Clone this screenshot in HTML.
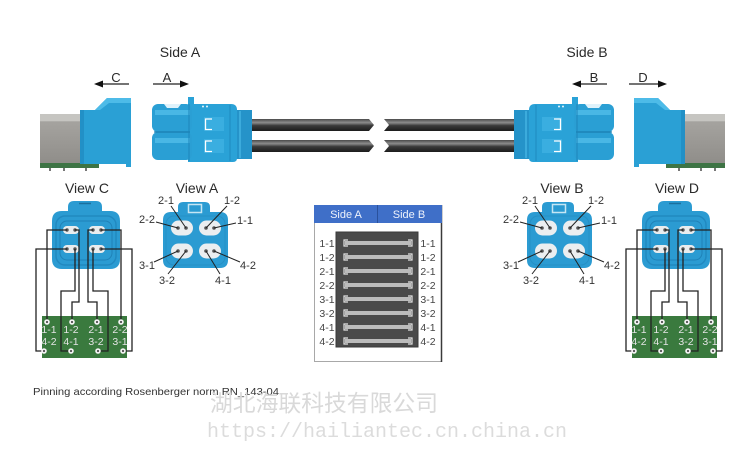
<!DOCTYPE html>
<html><head><meta charset="utf-8">
<style>
html,body{margin:0;padding:0;background:#fff;}
svg{display:block;}
text{font-family:"Liberation Sans",Arial,sans-serif;}
</style></head><body>
<svg width="750" height="457" viewBox="0 0 750 457" xmlns="http://www.w3.org/2000/svg">
<defs>
<linearGradient id="cab" x1="0" y1="0" x2="0" y2="1">
<stop offset="0" stop-color="#4a4a4a"/>
<stop offset="0.3" stop-color="#8c8c8c"/>
<stop offset="0.55" stop-color="#3a3a3a"/>
<stop offset="1" stop-color="#1c1c1c"/>
</linearGradient>
<linearGradient id="grey" x1="0" y1="0" x2="0" y2="1">
<stop offset="0" stop-color="#c6c5c1"/>
<stop offset="0.13" stop-color="#c6c5c1"/>
<stop offset="0.15" stop-color="#a5a39f"/>
<stop offset="1" stop-color="#8e8c88"/>
</linearGradient>

<g id="plug">
 <rect x="236" y="110" width="16" height="49" fill="#2593c9"/>
 <line x1="240" y1="111" x2="240" y2="158" stroke="#45b3e3" stroke-width="1.5"/>
 <path d="M188,104 H231 Q237,104 237,110 V158 Q237,162 233,162 H188 Z" fill="#2aa2d7"/>
 <rect x="188" y="97" width="6" height="8" fill="#2aa2d7"/>
 <rect x="152" y="104" width="40" height="28" rx="6" fill="#2a9fd4"/>
 <rect x="152" y="132" width="40" height="28" rx="6" fill="#2a9fd4"/>
 <rect x="155" y="110" width="35" height="5" fill="#49b7e5"/>
 <rect x="155" y="138" width="35" height="5" fill="#49b7e5"/>
 <line x1="154" y1="132" x2="190" y2="132" stroke="#1a7db0" stroke-width="1.2"/>
 <line x1="189" y1="104" x2="189" y2="161" stroke="#1d86ba" stroke-width="1"/>
 <polygon points="164,104 167,108 178,108 181,104" fill="#dff2fb"/>
 <circle cx="203" cy="106.5" r="1" fill="#e8f6fc"/>
 <circle cx="207" cy="106.5" r="1" fill="#e8f6fc"/>
 <rect x="204" y="117" width="20" height="14" fill="#3aaee0"/>
 <rect x="204" y="139" width="20" height="14" fill="#3aaee0"/>
 <path d="M212,119 H205.5 V129.5 H212 M212,141 H205.5 V151.5 H212" fill="none" stroke="#fff" stroke-width="1.3"/>
 <line x1="230" y1="105" x2="230" y2="161" stroke="#1f8bbf"/>
</g>

<g id="recep">
 <rect x="40" y="114" width="44" height="52" fill="url(#grey)"/>
 <rect x="40" y="163" width="59" height="5" fill="#3e7445"/>
 <rect x="49" y="168" width="2" height="3" fill="#777"/>
 <rect x="63" y="168" width="2" height="3" fill="#777"/>
 <rect x="85" y="168" width="2" height="3" fill="#777"/>
 <path d="M80,110 H95 L107,98 H131 V167 H126 V164 H80 Z" fill="#2aa0d5"/>
 <rect x="80" y="110" width="4" height="54" fill="#2290c6"/>
 <polygon points="95,110 107,98 131,98 131,103 109,103 100,110" fill="#4dbbe8"/>
</g>

<g id="vc">
 <rect x="42" y="316" width="85" height="42" fill="#3a7a3e"/>
 <path d="M52,221 Q52,211 62,211 H68 V207 Q68,201 74,201 H96 Q102,201 102,207 V211 H110 Q120,211 120,221 V259 Q120,269 110,269 H62 Q52,269 52,259 Z" fill="#2b9bd2"/>
 <rect x="56" y="216" width="60" height="49" rx="9" fill="none" stroke="#2189c0" stroke-width="1.5"/>
 <rect x="60" y="221" width="52" height="39" rx="7" fill="none" stroke="#1f82b8" stroke-width="1"/>
 <line x1="79" y1="203.5" x2="91" y2="203.5" stroke="#1a6f9e" stroke-width="1.5"/>
 <rect x="63" y="226" width="16" height="8" rx="4" fill="#e9ecee"/>
 <rect x="89" y="226" width="16" height="8" rx="4" fill="#e9ecee"/>
 <rect x="63" y="245" width="16" height="8" rx="4" fill="#e9ecee"/>
 <rect x="89" y="245" width="16" height="8" rx="4" fill="#e9ecee"/>
 <g fill="#555">
  <circle cx="67" cy="230" r="1.7"/><circle cx="75" cy="230" r="1.7"/>
  <circle cx="93" cy="230" r="1.7"/><circle cx="101" cy="230" r="1.7"/>
  <circle cx="67" cy="249" r="1.7"/><circle cx="75" cy="249" r="1.7"/>
  <circle cx="93" cy="249" r="1.7"/><circle cx="101" cy="249" r="1.7"/>
 </g>
 <g fill="none" stroke="#222" stroke-width="1.3">
  <path d="M67,230 H47 V322"/>
  <path d="M75,230 H79 V302 H72 V322"/>
  <path d="M93,230 H88 V302 H97 V322"/>
  <path d="M101,230 H121 V322"/>
  <path d="M67,249 H36 V351 H44"/>
  <path d="M75,249 V291 H61 V351 H71"/>
  <path d="M93,249 V291 H108 V351 H98"/>
  <path d="M101,249 H132 V351 H123"/>
 </g>
 <g fill="#f2f2f2">
  <circle cx="47" cy="322" r="2.8"/><circle cx="72" cy="322" r="2.8"/>
  <circle cx="97" cy="322" r="2.8"/><circle cx="121" cy="322" r="2.8"/>
  <circle cx="44" cy="351" r="2.8"/><circle cx="71" cy="351" r="2.8"/>
  <circle cx="98" cy="351" r="2.8"/><circle cx="123" cy="351" r="2.8"/>
 </g>
 <g fill="#333">
  <circle cx="47" cy="322" r="1"/><circle cx="72" cy="322" r="1"/>
  <circle cx="97" cy="322" r="1"/><circle cx="121" cy="322" r="1"/>
  <circle cx="44" cy="351" r="1"/><circle cx="71" cy="351" r="1"/>
  <circle cx="98" cy="351" r="1"/><circle cx="123" cy="351" r="1"/>
 </g>
</g>

<g id="va">
 <path d="M163,220 Q163,212 171,212 H178 V207 Q178,202 183,202 H205 Q210,202 210,207 V212 H220 Q228,212 228,220 V260 Q228,268 220,268 H171 Q163,268 163,260 Z" fill="#2b9bd2"/>
 <rect x="166" y="216" width="59" height="49" rx="8" fill="none" stroke="#2590c6" stroke-width="1"/>
 <rect x="188.5" y="204.5" width="13" height="8" fill="none" stroke="#c6e6f4" stroke-width="1.5"/>
 <rect x="171" y="220.5" width="22" height="15" rx="7.5" fill="#ebeef0"/>
 <rect x="199" y="220.5" width="22" height="15" rx="7.5" fill="#ebeef0"/>
 <rect x="171" y="243.5" width="22" height="15" rx="7.5" fill="#ebeef0"/>
 <rect x="199" y="243.5" width="22" height="15" rx="7.5" fill="#ebeef0"/>
 <g fill="#555">
  <circle cx="178" cy="228" r="1.8"/><circle cx="186" cy="228" r="1.8"/>
  <circle cx="206" cy="228" r="1.8"/><circle cx="214" cy="228" r="1.8"/>
  <circle cx="178" cy="251" r="1.8"/><circle cx="186" cy="251" r="1.8"/>
  <circle cx="206" cy="251" r="1.8"/><circle cx="214" cy="251" r="1.8"/>
 </g>
 <g stroke="#222" stroke-width="1">
  <line x1="156" y1="222" x2="178" y2="228"/>
  <line x1="171" y1="206" x2="186" y2="228"/>
  <line x1="227" y1="206" x2="206" y2="228"/>
  <line x1="236" y1="223" x2="214" y2="228"/>
  <line x1="154" y1="262" x2="178" y2="251"/>
  <line x1="168" y1="274" x2="186" y2="251"/>
  <line x1="220" y1="274" x2="206" y2="251"/>
  <line x1="240" y1="262" x2="214" y2="251"/>
 </g>
</g>
</defs>

<!-- Side labels -->
<text x="180" y="57" font-size="14" fill="#2a2a2a" text-anchor="middle">Side A</text>
<text x="587" y="57" font-size="14" fill="#2a2a2a" text-anchor="middle">Side B</text>

<!-- arrows -->
<g stroke="#222" stroke-width="1.2">
 <line x1="101" y1="84" x2="129" y2="84"/>
 <line x1="153" y1="84" x2="182" y2="84"/>
 <line x1="579" y1="84" x2="607" y2="84"/>
 <line x1="629" y1="84" x2="660" y2="84"/>
</g>
<g fill="#111">
 <polygon points="94,84 103,80.5 103,87.5"/>
 <polygon points="189,84 180,80.5 180,87.5"/>
 <polygon points="572,84 581,80.5 581,87.5"/>
 <polygon points="667,84 658,80.5 658,87.5"/>
</g>
<g font-size="13" fill="#2a2a2a" text-anchor="middle">
 <text x="116" y="82">C</text>
 <text x="167" y="82">A</text>
 <text x="594" y="82">B</text>
 <text x="643" y="82">D</text>
</g>

<!-- cables -->
<polygon points="250,119 369,119 374,125 369,131 250,131" fill="url(#cab)"/>
<polygon points="250,140 369,140 374,146 369,152 250,152" fill="url(#cab)"/>
<polygon points="384,119 516,119 516,131 384,131 389,125" fill="url(#cab)"/>
<polygon points="384,140 516,140 516,152 384,152 389,146" fill="url(#cab)"/>

<!-- connectors -->
<use href="#recep"/>
<use href="#recep" transform="matrix(-1 0 0 1 765 0)"/>
<use href="#plug"/>
<use href="#plug" transform="matrix(-1 0 0 1 766 0)"/>

<!-- View titles -->
<g font-size="14" fill="#2a2a2a" text-anchor="middle">
 <text x="87" y="193">View C</text>
 <text x="197" y="193">View A</text>
 <text x="562" y="193">View B</text>
 <text x="677" y="193">View D</text>
</g>

<!-- View C / D -->
<use href="#vc"/>
<use href="#vc" transform="translate(590 0)"/>
<g font-size="10.5" fill="#e4e4e4" text-anchor="middle">
 <text x="49" y="333">1-1</text><text x="71" y="333">1-2</text><text x="96" y="333">2-1</text><text x="120" y="333">2-2</text>
 <text x="49" y="345">4-2</text><text x="71" y="345">4-1</text><text x="96" y="345">3-2</text><text x="120" y="345">3-1</text>
 <text x="639" y="333">1-1</text><text x="661" y="333">1-2</text><text x="686" y="333">2-1</text><text x="710" y="333">2-2</text>
 <text x="639" y="345">4-2</text><text x="661" y="345">4-1</text><text x="686" y="345">3-2</text><text x="710" y="345">3-1</text>
</g>

<!-- View A / B -->
<use href="#va"/>
<use href="#va" transform="translate(364 0)"/>
<g font-size="11" fill="#333" text-anchor="middle">
 <text x="166" y="204">2-1</text><text x="232" y="204">1-2</text>
 <text x="147" y="223">2-2</text><text x="245" y="224">1-1</text>
 <text x="147" y="269">3-1</text><text x="248" y="269">4-2</text>
 <text x="167" y="284">3-2</text><text x="223" y="284">4-1</text>
 <text x="530" y="204">2-1</text><text x="596" y="204">1-2</text>
 <text x="511" y="223">2-2</text><text x="609" y="224">1-1</text>
 <text x="511" y="269">3-1</text><text x="612" y="269">4-2</text>
 <text x="531" y="284">3-2</text><text x="587" y="284">4-1</text>
</g>

<!-- Table -->
<rect x="314.5" y="205.5" width="127" height="156" fill="#fff" stroke="#a8a8a8" stroke-width="1"/>
<line x1="441.5" y1="205" x2="441.5" y2="362" stroke="#3a3a3a" stroke-width="1.5"/>
<rect x="314" y="205" width="128" height="18" fill="#3f6fc8"/>
<line x1="377.5" y1="205" x2="377.5" y2="223" stroke="#2a519c" stroke-width="1"/>
<text x="346" y="218" font-size="11" fill="#eef2fb" text-anchor="middle">Side A</text>
<text x="409" y="218" font-size="11" fill="#eef2fb" text-anchor="middle">Side B</text>
<rect x="336" y="232" width="82" height="115" fill="#4a4a4a" stroke="#3a3a3a" stroke-width="1"/>
<g fill="#bcbcbc">
 <rect x="345" y="241" width="66" height="4"/>
 <rect x="345" y="255" width="66" height="4"/>
 <rect x="345" y="269" width="66" height="4"/>
 <rect x="345" y="283" width="66" height="4"/>
 <rect x="345" y="297" width="66" height="4"/>
 <rect x="345" y="311" width="66" height="4"/>
 <rect x="345" y="325" width="66" height="4"/>
 <rect x="345" y="339" width="66" height="4"/>
</g>
<g fill="none" stroke="#e2e2e2" stroke-width="1.2">
 <path d="M348,240 H344 V246 H348 M408,240 H412 V246 H408"/>
 <path d="M348,254 H344 V260 H348 M408,254 H412 V260 H408"/>
 <path d="M348,268 H344 V274 H348 M408,268 H412 V274 H408"/>
 <path d="M348,282 H344 V288 H348 M408,282 H412 V288 H408"/>
 <path d="M348,296 H344 V302 H348 M408,296 H412 V302 H408"/>
 <path d="M348,310 H344 V316 H348 M408,310 H412 V316 H408"/>
 <path d="M348,324 H344 V330 H348 M408,324 H412 V330 H408"/>
 <path d="M348,338 H344 V344 H348 M408,338 H412 V344 H408"/>
</g>
<g font-size="10.5" fill="#444" text-anchor="middle">
 <text x="327" y="247">1-1</text><text x="428" y="247">1-1</text>
 <text x="327" y="261">1-2</text><text x="428" y="261">1-2</text>
 <text x="327" y="275">2-1</text><text x="428" y="275">2-1</text>
 <text x="327" y="289">2-2</text><text x="428" y="289">2-2</text>
 <text x="327" y="303">3-1</text><text x="428" y="303">3-1</text>
 <text x="327" y="317">3-2</text><text x="428" y="317">3-2</text>
 <text x="327" y="331">4-1</text><text x="428" y="331">4-1</text>
 <text x="327" y="345">4-2</text><text x="428" y="345">4-2</text>
</g>

<!-- footer -->
<text x="33" y="395" font-size="10.5" fill="#333" textLength="246" lengthAdjust="spacingAndGlyphs">Pinning according Rosenberger norm RN_143-04</text>
<text x="210" y="411" font-size="23" fill="#d9d9d9" textLength="228" lengthAdjust="spacingAndGlyphs" style="font-family:'Liberation Sans','Noto Sans CJK SC',sans-serif">湖北海联科技有限公司</text>
<text x="207" y="437" font-size="20" fill="#dcdcdc" textLength="360" lengthAdjust="spacingAndGlyphs" style="font-family:'Liberation Mono',monospace">https://hailiantec.cn.china.cn</text>
</svg>
</body></html>
